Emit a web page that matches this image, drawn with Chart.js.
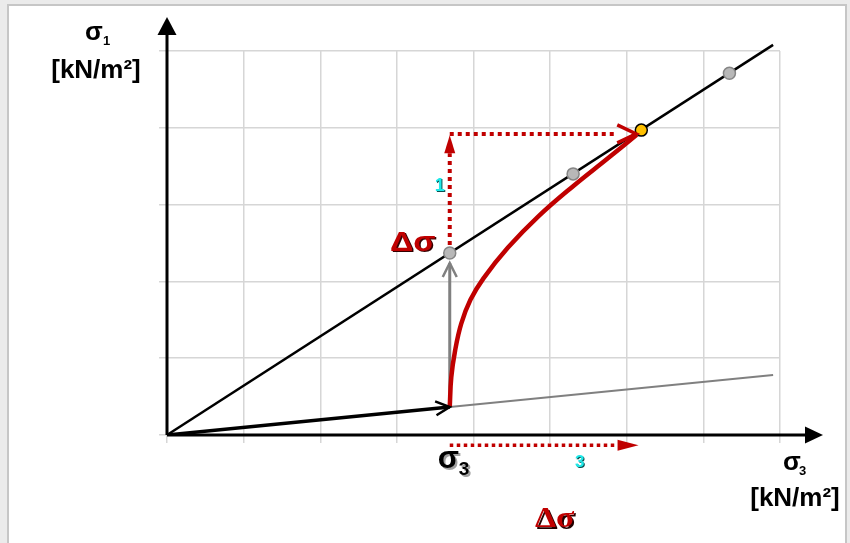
<!DOCTYPE html>
<html>
<head>
<meta charset="utf-8">
<title>Spannungspfad σ1 / σ3</title>
<script src="https://cdn.jsdelivr.net/npm/chart.js@4.4.1/dist/chart.umd.min.js"></script>
<style>
  html, body { margin: 0; padding: 0; background: #ebebeb; overflow: hidden; }
  canvas { display: block; }
</style>
</head>
<body>
<canvas id="chart" width="850" height="543"></canvas>
<script>
// failure line through the origin
const lineX = [0, 7.91];
const lineY = [0, 5.08];
// loading path from the origin up to sigma3
const loadX = [0, 3.69];
const loadY = [0, 0.365];
// continuation of the loading path (grey)
const restX = [3.69, 7.91];
const restY = [0.365, 0.78];
// grey vertical step, sigma1 only
const stepX = [3.69, 3.69];
const stepY = [0.365, 2.24];
// red stress path
const pathX = [3.69, 3.71, 3.76, 3.84, 3.96, 4.13, 4.45, 4.85, 5.30, 5.75, 6.13];
const pathY = [0.365, 0.75, 1.10, 1.45, 1.76, 2.04, 2.44, 2.85, 3.24, 3.60, 3.91];
// dotted delta-sigma arrows
const riseX = [3.69, 3.69];
const riseY = [2.37, 3.67];
const runX = [3.69, 5.85];
const runY = [3.92, 3.92];
const shiftX = [3.69, 5.88];
const shiftY = [-0.135, -0.135];
// points on the failure line
const greyX = [3.69, 5.30, 7.34];
const greyY = [2.37, 3.40, 4.71];
const peakX = [6.19];
const peakY = [3.97];

const RED = "#c00000";

function pts(xs, ys) {
  return xs.map((x, i) => ({ x: x, y: ys[i] }));
}

// white sheet with grey frame behind the chart
const sheet = {
  id: "sheet",
  beforeDraw(chart) {
    const ctx = chart.ctx;
    ctx.save();
    ctx.fillStyle = "#ebebeb";
    ctx.fillRect(0, 0, chart.width, chart.height);
    ctx.fillStyle = "#ffffff";
    ctx.fillRect(9, 6, 836, chart.height);
    ctx.strokeStyle = "#c6c6c6";
    ctx.lineWidth = 2;
    ctx.strokeRect(8, 5, 838, chart.height + 10);
    ctx.restore();
  },
};

// axes with arrow tips
const axes = {
  id: "axes",
  beforeDatasetsDraw(chart) {
    const ctx = chart.ctx;
    const a = chart.chartArea;
    const x0 = chart.scales.x.getPixelForValue(0);
    const y0 = chart.scales.y.getPixelForValue(0);
    ctx.save();
    ctx.strokeStyle = "#000";
    ctx.fillStyle = "#000";
    ctx.lineWidth = 3;
    ctx.beginPath();
    ctx.moveTo(x0, y0);
    ctx.lineTo(x0, a.top - 20);
    ctx.moveTo(x0, y0);
    ctx.lineTo(a.right + 30, y0);
    ctx.stroke();
    ctx.beginPath();
    ctx.moveTo(x0, a.top - 34);
    ctx.lineTo(x0 - 9.5, a.top - 16);
    ctx.lineTo(x0 + 9.5, a.top - 16);
    ctx.closePath();
    ctx.fill();
    ctx.beginPath();
    ctx.moveTo(a.right + 43, y0);
    ctx.lineTo(a.right + 25, y0 - 8.5);
    ctx.lineTo(a.right + 25, y0 + 8.5);
    ctx.closePath();
    ctx.fill();
    ctx.restore();
  },
};

// arrow heads at the end of datasets that carry an "arrow" entry
const heads = {
  id: "heads",
  afterDatasetsDraw(chart) {
    const ctx = chart.ctx;
    chart.data.datasets.forEach((ds, i) => {
      if (!ds.arrow) return;
      const pts = chart.getDatasetMeta(i).data;
      const p = pts[pts.length - 1];
      const q = pts[pts.length - 2];
      const dx = p.x - q.x, dy = p.y - q.y;
      const len = Math.hypot(dx, dy);
      const ux = dx / len, uy = dy / len;
      const h = ds.arrow;
      const tx = p.x + ux * h.ahead, ty = p.y + uy * h.ahead;
      const bx = tx - ux * h.size, by = ty - uy * h.size;
      const nx = -uy * h.half, ny = ux * h.half;
      ctx.save();
      ctx.strokeStyle = h.color;
      ctx.fillStyle = h.color;
      ctx.lineWidth = h.width || 3;
      ctx.lineCap = "butt";
      ctx.lineJoin = "miter";
      ctx.beginPath();
      ctx.moveTo(bx + nx, by + ny);
      ctx.lineTo(tx, ty);
      ctx.lineTo(bx - nx, by - ny);
      if (h.solid) {
        ctx.closePath();
        ctx.fill();
      } else {
        ctx.stroke();
      }
      ctx.restore();
    });
  },
};

// text with optional drop shadow and horizontal stretch
function label(ctx, text, x, y, font, color, shadow, off, stretch) {
  ctx.save();
  ctx.translate(x, y);
  ctx.scale(stretch || 1, 1);
  ctx.font = font;
  ctx.textBaseline = "alphabetic";
  ctx.textAlign = "left";
  if (shadow) {
    ctx.fillStyle = shadow;
    ctx.fillText(text, off || 1.5, off || 1.5);
  }
  ctx.fillStyle = color;
  ctx.fillText(text, 0, 0);
  ctx.restore();
}

function centred(ctx, text, x, y, font) {
  ctx.save();
  ctx.font = font;
  ctx.textAlign = "center";
  ctx.fillStyle = "#000";
  ctx.fillText(text, x, y);
  ctx.restore();
}

// axis titles and annotations
const notes = {
  id: "notes",
  afterDraw(chart) {
    const ctx = chart.ctx;
    const sx = chart.scales.x, sy = chart.scales.y;
    const SANS = '"Liberation Sans", Arial, sans-serif';
    const SERIF = '"Liberation Serif", "Times New Roman", serif';

    // sigma1 axis title
    label(ctx, "σ", 85, 40, "bold 26px " + SANS, "#000");
    label(ctx, "1", 103, 45, "bold 13px " + SANS, "#000");
    centred(ctx, "[kN/m²]", 96, 78, "bold 26px " + SANS);

    // sigma3 axis title
    label(ctx, "σ", 783, 470, "bold 26px " + SANS, "#000");
    label(ctx, "3", 799, 475, "bold 13px " + SANS, "#000");
    centred(ctx, "[kN/m²]", 795, 506, "bold 26px " + SANS);

    // sigma3 at the start of the path
    const xs = sx.getPixelForValue(loadX[1]);
    label(ctx, "σ", xs - 12, 468, "bold 31px " + SANS, "#000", "#a0a0a0", 2);
    label(ctx, "3", xs + 9, 475, "bold 19px " + SANS, "#000", "#a0a0a0", 2);

    // delta sigma labels
    label(ctx, "Δσ", 390, sy.getPixelForValue(greyY[0]) - 2, "bold 27px " + SANS, RED, "#300", 1.3, 1.2);
    label(ctx, "Δσ", 535, 527, "bold 30px " + SERIF, RED, "#200", 1.5, 1.12);

    // ratio numbers
    label(ctx, "1", xs - 15, 191, "bold 18px " + SANS, "#1fe8e8", "#0c5050", 1);
    label(ctx, "3", 575, 467, "bold 17px " + SANS, "#1fe8e8", "#0c5050", 1);
  },
};

new Chart(document.getElementById("chart"), {
  type: "scatter",
  data: {
    datasets: [
      {
        data: pts(peakX, peakY),
        showLine: false,
        pointRadius: 6,
        pointBackgroundColor: "#ffc000",
        pointBorderColor: "#000",
        pointBorderWidth: 1.5,
        clip: false,
      },
      {
        data: pts(greyX, greyY),
        showLine: false,
        pointRadius: 6,
        pointBackgroundColor: "#b8b8b8",
        pointBorderColor: "#858585",
        pointBorderWidth: 1.5,
        clip: false,
      },
      {
        data: pts(pathX, pathY),
        showLine: true,
        borderColor: RED,
        borderWidth: 4.5,
        tension: 0.4,
        pointRadius: 0,
      },
      {
        data: pts(riseX, riseY),
        showLine: true,
        borderColor: RED,
        borderWidth: 4,
        borderDash: [4, 4],
        pointRadius: 0,
        arrow: { solid: true, ahead: 18, size: 18, half: 5.5, color: RED },
      },
      {
        data: pts(runX, runY),
        showLine: true,
        borderColor: RED,
        borderWidth: 4,
        borderDash: [4, 4],
        pointRadius: 0,
        arrow: { solid: false, ahead: 21, size: 19, half: 9, color: RED, width: 3.5 },
      },
      {
        data: pts(shiftX, shiftY),
        showLine: true,
        borderColor: RED,
        borderWidth: 3.5,
        borderDash: [3.5, 3.5],
        pointRadius: 0,
        clip: false,
        arrow: { solid: true, ahead: 21, size: 21, half: 5.5, color: RED },
      },
      {
        data: pts(stepX, stepY),
        showLine: true,
        borderColor: "#808080",
        borderWidth: 3,
        pointRadius: 0,
        arrow: { solid: false, ahead: 0, size: 14, half: 7, color: "#808080", width: 2.5 },
      },
      {
        data: pts(loadX, loadY),
        showLine: true,
        borderColor: "#000",
        borderWidth: 3.5,
        pointRadius: 0,
        arrow: { solid: false, ahead: 0, size: 14, half: 7, color: "#000", width: 2.5 },
      },
      {
        data: pts(restX, restY),
        showLine: true,
        borderColor: "#808080",
        borderWidth: 2,
        pointRadius: 0,
        clip: false,
      },
      {
        data: pts(lineX, lineY),
        showLine: true,
        borderColor: "#000",
        borderWidth: 2.5,
        pointRadius: 0,
        clip: false,
      },
    ],
  },
  options: {
    responsive: false,
    devicePixelRatio: 1,
    animation: false,
    events: [],
    layout: { padding: { left: 159, right: 70, top: 51, bottom: 100 } },
    plugins: { legend: { display: false }, tooltip: { enabled: false } },
    scales: {
      x: {
        min: 0,
        max: 8,
        border: { display: false },
        grid: { color: "#d6d6d6", lineWidth: 1.5, tickLength: 8 },
        ticks: { display: false, stepSize: 1 },
      },
      y: {
        min: 0,
        max: 5,
        border: { display: false },
        grid: { color: "#d6d6d6", lineWidth: 1.5, tickLength: 8 },
        ticks: { display: false, stepSize: 1 },
      },
    },
  },
  plugins: [sheet, axes, heads, notes],
});
</script>
</body>
</html>
